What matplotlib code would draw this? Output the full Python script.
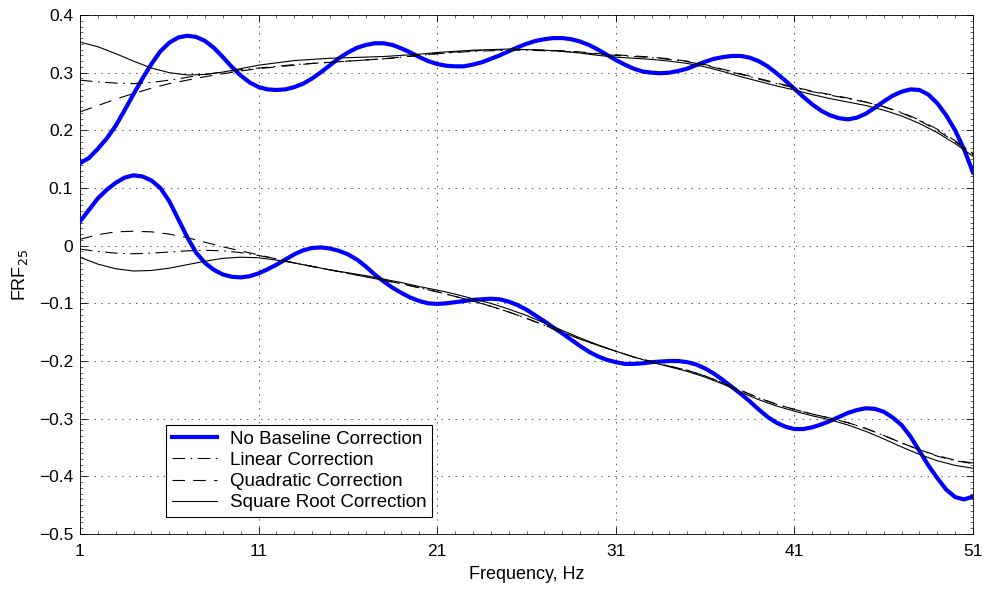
import numpy as np
import matplotlib
matplotlib.use("Agg")
import matplotlib.pyplot as plt
from matplotlib.ticker import MultipleLocator, FuncFormatter

plt.rcParams['font.family'] = ['Liberation Sans', 'DejaVu Sans']
plt.rcParams['lines.scale_dashes'] = False

# ---------------- data ----------------
freq_fine = np.arange(1, 51.01, 0.5)
freq = np.arange(1, 52, 1)

upper_none = [0.143, 0.152, 0.168, 0.186, 0.208, 0.235, 0.263, 0.290, 0.315, 0.337,
              0.352, 0.361, 0.364, 0.362, 0.355, 0.343, 0.327, 0.310, 0.295, 0.283,
              0.275, 0.271, 0.270, 0.271, 0.275, 0.281, 0.290, 0.301, 0.313, 0.325,
              0.335, 0.343, 0.348, 0.351, 0.351, 0.348, 0.342, 0.335, 0.327, 0.320,
              0.315, 0.312, 0.311, 0.311, 0.314, 0.318, 0.324, 0.330, 0.337, 0.344,
              0.350, 0.355, 0.358, 0.360, 0.360, 0.358, 0.354, 0.348, 0.340, 0.331,
              0.322, 0.314, 0.307, 0.302, 0.300, 0.299, 0.300, 0.303, 0.307, 0.313,
              0.319, 0.324, 0.327, 0.329, 0.329, 0.326, 0.320, 0.311, 0.299, 0.286,
              0.272, 0.258, 0.245, 0.234, 0.226, 0.221, 0.219, 0.222, 0.229, 0.239,
              0.250, 0.260, 0.267, 0.271, 0.270, 0.262, 0.247, 0.226, 0.200, 0.167,
              0.127]

lower_none = [0.042, 0.062, 0.082, 0.097, 0.109, 0.118, 0.122, 0.120, 0.113, 0.100,
              0.077, 0.046, 0.015, -0.012, -0.030, -0.042, -0.050, -0.054, -0.055, -0.053,
              -0.048, -0.041, -0.033, -0.024, -0.015, -0.008, -0.004, -0.003, -0.005, -0.009,
              -0.015, -0.024, -0.036, -0.050, -0.062, -0.073, -0.082, -0.090, -0.096, -0.100,
              -0.101, -0.100, -0.098, -0.096, -0.094, -0.093, -0.092, -0.093, -0.097, -0.103,
              -0.111, -0.121, -0.131, -0.142, -0.152, -0.163, -0.174, -0.184, -0.192, -0.198,
              -0.202, -0.205, -0.205, -0.204, -0.202, -0.201, -0.200, -0.200, -0.202, -0.206,
              -0.213, -0.222, -0.233, -0.245, -0.257, -0.270, -0.284, -0.297, -0.307, -0.314,
              -0.318, -0.318, -0.315, -0.310, -0.304, -0.297, -0.290, -0.285, -0.282, -0.283,
              -0.288, -0.298, -0.311, -0.331, -0.356, -0.381, -0.403, -0.423, -0.436, -0.440,
              -0.435]

upper_linear = [0.287, 0.284, 0.282, 0.281, 0.283, 0.287, 0.292, 0.297, 0.301, 0.305,
                0.308, 0.311, 0.314, 0.316, 0.318, 0.320, 0.322, 0.324, 0.327, 0.330,
                0.333, 0.335, 0.337, 0.338, 0.339, 0.339, 0.338, 0.337, 0.335, 0.332,
                0.330, 0.328, 0.326, 0.323, 0.319, 0.313, 0.305, 0.297, 0.289, 0.281,
                0.274, 0.267, 0.261, 0.255, 0.249, 0.241, 0.231, 0.218, 0.202, 0.182,
                0.160]

upper_quad = [0.232, 0.243, 0.254, 0.264, 0.273, 0.281, 0.287, 0.293, 0.298, 0.303,
              0.307, 0.310, 0.313, 0.316, 0.318, 0.320, 0.322, 0.324, 0.327, 0.330,
              0.333, 0.336, 0.338, 0.339, 0.340, 0.340, 0.339, 0.338, 0.336, 0.333,
              0.331, 0.329, 0.327, 0.324, 0.320, 0.314, 0.306, 0.298, 0.290, 0.282,
              0.275, 0.268, 0.262, 0.256, 0.249, 0.241, 0.230, 0.217, 0.200, 0.180,
              0.158]

upper_sqrt = [0.353, 0.345, 0.333, 0.320, 0.308, 0.300, 0.296, 0.297, 0.301, 0.307,
              0.313, 0.317, 0.321, 0.323, 0.325, 0.326, 0.327, 0.328, 0.330, 0.332,
              0.335, 0.337, 0.339, 0.340, 0.341, 0.340, 0.339, 0.337, 0.334, 0.330,
              0.327, 0.325, 0.323, 0.320, 0.316, 0.310, 0.302, 0.293, 0.285, 0.277,
              0.270, 0.262, 0.255, 0.249, 0.243, 0.235, 0.225, 0.212, 0.196, 0.177,
              0.155]

lower_linear = [-0.006, -0.010, -0.013, -0.014, -0.013, -0.011, -0.009, -0.008, -0.009, -0.012,
                -0.017, -0.023, -0.030, -0.036, -0.042, -0.048, -0.054, -0.060, -0.066, -0.073,
                -0.080, -0.088, -0.096, -0.105, -0.115, -0.126, -0.138, -0.150, -0.162, -0.173,
                -0.183, -0.193, -0.201, -0.209, -0.216, -0.226, -0.238, -0.251, -0.264, -0.275,
                -0.284, -0.292, -0.299, -0.307, -0.317, -0.329, -0.342, -0.354, -0.365, -0.373,
                -0.378]

lower_quad = [0.011, 0.019, 0.024, 0.025, 0.024, 0.020, 0.014, 0.006, -0.002, -0.009,
              -0.016, -0.023, -0.030, -0.036, -0.042, -0.048, -0.054, -0.060, -0.066, -0.073,
              -0.080, -0.088, -0.096, -0.105, -0.115, -0.126, -0.138, -0.150, -0.162, -0.173,
              -0.183, -0.193, -0.201, -0.209, -0.216, -0.226, -0.238, -0.251, -0.264, -0.275,
              -0.284, -0.292, -0.299, -0.307, -0.317, -0.329, -0.342, -0.354, -0.364, -0.372,
              -0.377]

lower_sqrt = [-0.020, -0.032, -0.040, -0.044, -0.043, -0.039, -0.033, -0.027, -0.022, -0.020,
              -0.021, -0.025, -0.030, -0.036, -0.042, -0.047, -0.052, -0.058, -0.064, -0.071,
              -0.077, -0.084, -0.092, -0.100, -0.110, -0.121, -0.134, -0.147, -0.160, -0.172,
              -0.183, -0.193, -0.202, -0.210, -0.218, -0.228, -0.240, -0.254, -0.267, -0.278,
              -0.287, -0.295, -0.302, -0.311, -0.322, -0.335, -0.349, -0.362, -0.373, -0.381,
              -0.386]

labels = ["No Baseline Correction", "Linear Correction",
          "Quadratic Correction", "Square Root Correction"]
xticks = [1, 11, 21, 31, 41, 51]
yticks = [0.4, 0.3, 0.2, 0.1, 0, -0.1, -0.2, -0.3, -0.4, -0.5]

# ---------------- plot ----------------
fig = plt.figure(figsize=(9.84, 5.93), dpi=100)
ax = fig.add_axes([80/984, 1-534/593, (973-80)/984, (534-15)/593])

dashdot = (0, (9, 4, 1.2, 4))
dashed = (0, (9, 6))

blue = '#0000ff'
lw_b = 3.0
lw_k = 0.8
fs = 13

h1, = ax.plot(freq_fine, upper_none, color=blue, lw=lw_b, label=labels[0], zorder=3)
ax.plot(freq_fine, lower_none, color=blue, lw=lw_b, zorder=3)
h2, = ax.plot(freq, upper_linear, color='k', lw=lw_k, linestyle=dashdot, label=labels[1], zorder=4)
ax.plot(freq, lower_linear, color='k', lw=lw_k, linestyle=dashdot, zorder=4)
h3, = ax.plot(freq, upper_quad, color='k', lw=lw_k, linestyle=dashed, label=labels[2], zorder=4)
ax.plot(freq, lower_quad, color='k', lw=lw_k, linestyle=dashed, zorder=4)
h4, = ax.plot(freq, upper_sqrt, color='k', lw=lw_k, linestyle='-', label=labels[3], zorder=4)
ax.plot(freq, lower_sqrt, color='k', lw=lw_k, linestyle='-', zorder=4)

ax.set_xlim(1, 51)
ax.set_ylim(-0.5, 0.4)
ax.set_xticks(xticks)
ax.set_yticks(yticks)
ax.xaxis.set_minor_locator(MultipleLocator(1))
ax.yaxis.set_minor_locator(MultipleLocator(0.01))
ax.yaxis.set_major_formatter(FuncFormatter(lambda v, p: ('%g' % round(v, 2)).replace('-', '\u2212')))

ax.tick_params(which='both', direction='in', top=True, right=True, labelsize=12.5, colors='k')
ax.tick_params(which='major', length=5, width=0.6)
ax.tick_params(axis='x', which='major', pad=7)
ax.tick_params(axis='y', which='major', pad=5)
ax.tick_params(which='minor', length=2.5, width=0.4)
ax.grid(True, which='major', linestyle=(0, (1, 4)), color='k', linewidth=0.6, alpha=0.8)
for s in ax.spines.values():
    s.set_linewidth(0.6)

ax.set_xlabel("Frequency, Hz", fontsize=fs, labelpad=5)
ax.set_ylabel("FRF$_{25}$", fontsize=fs, labelpad=6)

leg = ax.legend(handles=[h1, h2, h3, h4], loc='lower left',
                bbox_to_anchor=((166-80)/893, (534-517)/519),
                fontsize=13.5, frameon=True, fancybox=False, edgecolor='k',
                framealpha=1, borderpad=0.3, labelspacing=0.22, handlelength=2.4,
                handletextpad=0.7, borderaxespad=0)
leg.get_frame().set_linewidth(0.8)

fig.savefig("out.png", dpi=100)
